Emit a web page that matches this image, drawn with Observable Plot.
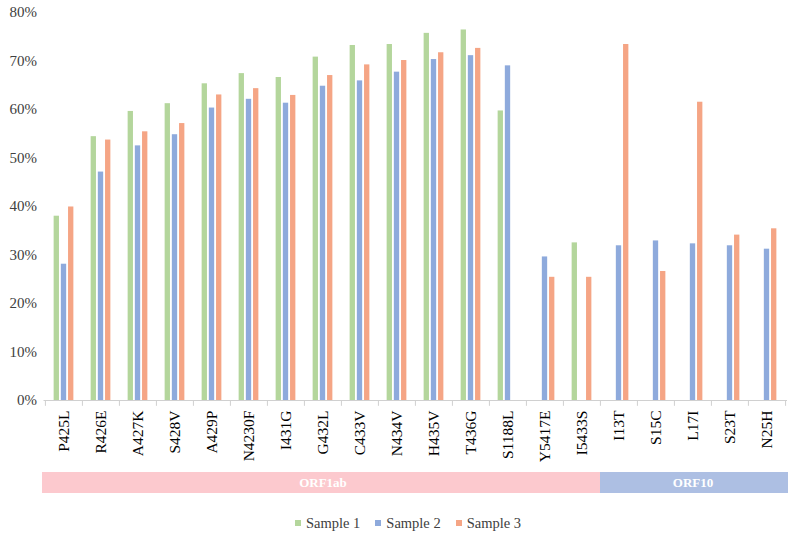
<!DOCTYPE html>
<html>
<head>
<meta charset="utf-8">
<script src="https://cdn.jsdelivr.net/npm/d3@7"></script>
<script src="https://cdn.jsdelivr.net/npm/@observablehq/plot@0.6"></script>
<style>
  html, body { margin: 0; padding: 0; background: #fff; }
  #chart { width: 800px; }
  .legend { display: flex; justify-content: center; align-items: center; gap: 15px;
            font-family: "Liberation Serif", "Times New Roman", serif; font-size: 14.5px; color: #404040;
            height: 30px; line-height: 30px; margin-top: 3px; padding-left: 16px; }
  .legend .item { display: flex; align-items: center; gap: 5px; }
  .legend .sw { width: 6px; height: 6px; display: inline-block; }
</style>
</head>
<body>
<div id="chart"></div>
<script>
const categories = ["P425L","R426E","A427K","S428V","A429P","N4230F","I431G","G432L","C433V","N434V","H435V","T436G","S1188L","Y5417E","I5433S","I13T","S15C","L17I","S23T","N25H"];
const sample1 = [0.380,0.544,0.596,0.612,0.653,0.674,0.666,0.708,0.732,0.734,0.757,0.764,0.597,null,0.325,null,null,null,null,null];
const sample2 = [0.281,0.471,0.525,0.548,0.603,0.621,0.613,0.648,0.659,0.677,0.703,0.711,0.690,0.296,null,0.319,0.329,0.323,0.319,0.312];
const sample3 = [0.399,0.537,0.554,0.571,0.630,0.643,0.629,0.670,0.692,0.701,0.717,0.726,null,0.254,0.254,0.734,0.266,0.615,0.341,0.354];
const sampleNames = ["Sample 1","Sample 2","Sample 3"];
const regions = ["ORF1ab","ORF10"];
const regionSizes = [15, 5];
const yTicks = [0,0.1,0.2,0.3,0.4,0.5,0.6,0.7,0.8];

const sampleColors = ["#b4d69c","#8eaadc","#f5a585"];
const regionColors = ["#fcc9ce","#adbfe3"];
const serif = "Liberation Serif, Times New Roman, serif";

const rows = categories.map((c, i) => ({category: c, s1: sample1[i], s2: sample2[i], s3: sample3[i]}));
const regionOf = [];
regions.forEach((r, k) => { for (let j = 0; j < regionSizes[k]; j++) regionOf.push(r); });
const strip = categories.map((c, i) => ({category: c, region: regionOf[i]}));
let acc = 0;
const regionLabels = regions.map((r, k) => {
  const mid = categories[acc + Math.floor(regionSizes[k] / 2)];
  acc += regionSizes[k];
  return {region: r, category: mid};
});

const W = 800, ML = 43.5, MR = 13;
const step = (W - ML - MR) / categories.length;
const barW = 5.5;
const inset = (step - barW) / 2;
const off = 7.2;

const keys = ["s1","s2","s3"];
const barMarks = keys.map((k, j) => Plot.barY(rows.filter(d => d[k] != null), {
  x: "category", y: k, fill: sampleColors[j], insetLeft: inset, insetRight: inset, dx: (j - 1) * off
}));

const first = strip.slice(0, 1), last = strip.slice(-1), middle = strip.slice(1, -1);
const stripOpts = {x: "category", y1: -0.149, y2: -0.191, fill: d => regionColors[regions.indexOf(d.region)], shapeRendering: "crispEdges"};

const chart = Plot.plot({
  width: W, height: 505,
  marginLeft: ML, marginRight: MR, marginTop: 12, marginBottom: 105,
  style: {fontFamily: serif, background: "#fff"},
  x: {domain: categories, padding: 0, axis: null},
  y: {domain: [0, 0.8], axis: null},
  marks: [
    ...barMarks,
    Plot.ruleY([0], {stroke: "#d0d0d0", strokeWidth: 1}),
    Plot.ruleX(categories, {x: d => d, y1: 0, y2: -0.012, dx: -step / 2, stroke: "#d0d0d0"}),
    Plot.ruleX(categories.slice(-1), {x: d => d, y1: 0, y2: -0.012, dx: step / 2, stroke: "#d0d0d0"}),
    Plot.axisX({tickRotate: -90, tickSize: 0, tickPadding: 10, fontSize: 15.5, fill: "#000", label: null}),
    Plot.axisY({ticks: yTicks, tickFormat: d3.format(".0%"), tickSize: 0, tickPadding: 7, fontSize: 15, fill: "#404040", label: null}),
    Plot.barY(middle, stripOpts),
    Plot.barY(first, {...stripOpts, insetLeft: -3}),
    Plot.barY(last, {...stripOpts, insetRight: -3}),
    Plot.text(regionLabels, {x: "category", y: -0.17, text: "region", fill: "#fff", fontWeight: "bold", fontSize: 13, fontFamily: serif})
  ]
});
document.getElementById("chart").appendChild(chart);

const legend = document.createElement("div");
legend.className = "legend";
sampleNames.forEach((n, j) => {
  const it = document.createElement("span");
  it.className = "item";
  const sw = document.createElement("span");
  sw.className = "sw";
  sw.style.background = sampleColors[j];
  const t = document.createElement("span");
  t.textContent = n;
  it.appendChild(sw); it.appendChild(t);
  legend.appendChild(it);
});
document.getElementById("chart").appendChild(legend);
</script>
</body>
</html>
